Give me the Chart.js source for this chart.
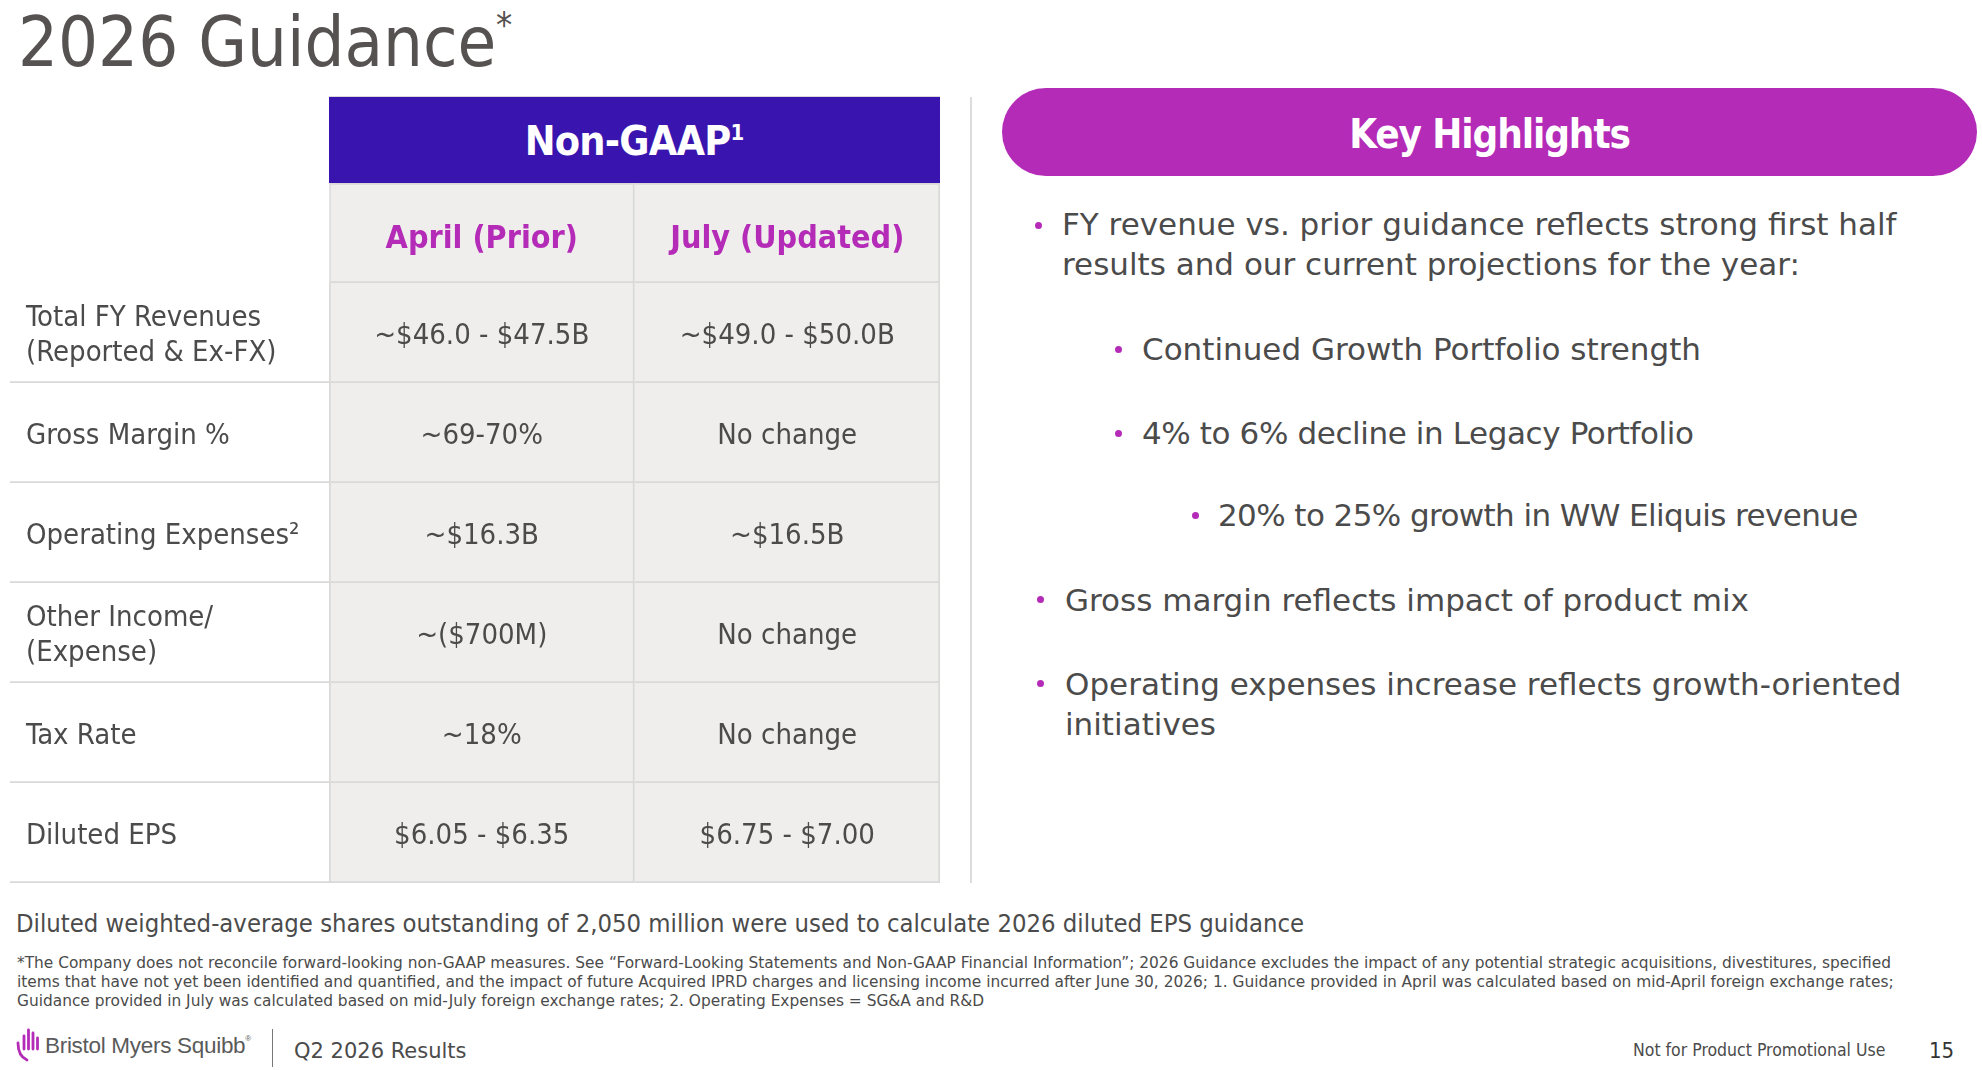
<!DOCTYPE html>
<html>
<head>
<meta charset="utf-8">
<title>2026 Guidance</title>
<script src="https://cdn.jsdelivr.net/npm/chart.js@4.4.1/dist/chart.umd.min.js"></script>
<style>
  html, body { margin: 0; padding: 0; background: #fff; }
  body { width: 1982px; height: 1070px; position: relative; overflow: hidden;
         font-family: "DejaVu Sans Condensed", "DejaVu Sans", sans-serif; color: #4b4b4b; }
  .t { position: absolute; white-space: nowrap; line-height: 1; }
  .dot { position: absolute; width: 7px; height: 7px; border-radius: 50%; background: #b42bb7; }
  .hl { font-family: "DejaVu Sans", sans-serif; font-size: 31px; }
  .foot { font-family: "DejaVu Sans", sans-serif; font-size: 15.4px; }
</style>
</head>
<body>

<div class="t" style="left:18px; top:7px; font-size:70px; color:#565251;">2026 Guidance</div>
<div class="t" style="left:496px; top:7px; font-size:36px; color:#565251;">*</div>

<!-- table header band -->
<div style="position:absolute; left:329px; top:97px; width:611px; height:86px; background:#3914af; box-shadow:0 -1px 0 #d9d9d9;">
  <div class="t" style="left:0; right:0; top:24px; text-align:center; font-size:41px; font-weight:bold; letter-spacing:-0.8px; color:#fff;">Non-GAAP<span style="font-size:22px; vertical-align:15px; letter-spacing:0;">1</span></div>
</div>

<div style="position:absolute; left:10px; top:183px; width:930px; height:700px;">
  <canvas id="guidance"></canvas>
</div>

<div style="position:absolute; left:970px; top:97px; width:2px; height:786px; background:#dcdcdc;"></div>

<!-- key highlights -->
<div style="position:absolute; left:1002px; top:88px; width:975px; height:88px; border-radius:44px; background:#b42bb7;">
  <div class="t" style="left:0; right:0; top:26px; text-align:center; font-size:40px; font-weight:bold; letter-spacing:-1.1px; color:#fff;">Key Highlights</div>
</div>

<div class="dot" style="left:1035px; top:222px;"></div>
<div class="t hl" style="left:1062px; top:209px;">FY revenue vs. prior guidance reflects strong first half</div>
<div class="t hl" style="left:1062px; top:249px;">results and our current projections for the year:</div>

<div class="dot" style="left:1115px; top:346px;"></div>
<div class="t hl" style="left:1142px; top:334px;">Continued Growth Portfolio strength</div>

<div class="dot" style="left:1115px; top:430px;"></div>
<div class="t hl" style="left:1142px; top:418px; letter-spacing:-0.4px;">4% to 6% decline in Legacy Portfolio</div>

<div class="dot" style="left:1192px; top:512px;"></div>
<div class="t hl" style="left:1218px; top:500px; letter-spacing:-0.6px;">20% to 25% growth in WW Eliquis revenue</div>

<div class="dot" style="left:1037px; top:596px;"></div>
<div class="t hl" style="left:1065px; top:585px;">Gross margin reflects impact of product mix</div>

<div class="dot" style="left:1037px; top:680px;"></div>
<div class="t hl" style="left:1065px; top:669px;">Operating expenses increase reflects growth-oriented</div>
<div class="t hl" style="left:1065px; top:709px;">initiatives</div>

<!-- notes -->
<div class="t" style="left:16px; top:911px; font-size:25.4px;">Diluted weighted-average shares outstanding of 2,050 million were used to calculate 2026 diluted EPS guidance</div>
<div class="t foot" style="left:17px; top:956px;">*The Company does not reconcile forward-looking non-GAAP measures. See “Forward-Looking Statements and Non-GAAP Financial Information”; 2026 Guidance excludes the impact of any potential strategic acquisitions, divestitures, specified</div>
<div class="t foot" style="left:17px; top:975px;">items that have not yet been identified and quantified, and the impact of future Acquired IPRD charges and licensing income incurred after June 30, 2026; 1. Guidance provided in April was calculated based on mid-April foreign exchange rates;</div>
<div class="t foot" style="left:17px; top:994px;">Guidance provided in July was calculated based on mid-July foreign exchange rates; 2. Operating Expenses = SG&amp;A and R&amp;D</div>

<!-- footer -->
<svg style="position:absolute; left:14px; top:1026px;" width="30" height="38" viewBox="0 0 30 38">
  <g fill="none" stroke="#b42bb7" stroke-width="2.8" stroke-linecap="round">
    <path d="M4 17 Q4 30 13 34"/>
    <path d="M10 10 V23"/>
    <path d="M14.5 4 V23"/>
    <path d="M19 7 V23"/>
    <path d="M23.5 12 V23"/>
  </g>
</svg>
<div class="t" style="left:45px; top:1035px; font-family:'Liberation Sans', Arial, sans-serif; font-size:22.5px; letter-spacing:-0.3px; color:#5a5a5a;">Bristol Myers Squibb<span style="font-size:8px; vertical-align:12px;">®</span></div>
<div style="position:absolute; left:272px; top:1029px; width:1px; height:38px; background:#777;"></div>
<div class="t" style="left:294px; top:1041px; font-family:'DejaVu Sans', sans-serif; font-size:21px;">Q2 2026 Results</div>
<div class="t" style="left:1633px; top:1042px; font-size:17.5px;">Not for Product Promotional Use</div>
<div class="t" style="left:1929px; top:1040px; font-size:22px; color:#333;">15</div>

<script>
const periods = ['April (Prior)', 'July (Updated)'];
const rowLabels = [
  ['Total FY Revenues', '(Reported & Ex-FX)'],
  ['Gross Margin %'],
  ['Operating Expenses²'],
  ['Other Income/', '(Expense)'],
  ['Tax Rate'],
  ['Diluted EPS']
];
const aprilGuidance = ['~$46.0 - $47.5B', '~69-70%', '~$16.3B', '~($700M)', '~18%', '$6.05 - $6.35'];
const julyGuidance = ['~$49.0 - $50.0B', 'No change', '~$16.5B', 'No change', 'No change', '$6.75 - $7.00'];

const MAGENTA = '#b42bb7';
const TEXT = '#4b4b4b';
const CELL = '#efeeec';
const LINE = '#d9d9d9';
const FONT = '"DejaVu Sans Condensed", "DejaVu Sans", sans-serif';
// label column is a little wider than a value column
const LABEL_START = -319 / 305.5;

// first category is the header row with the period names
const rows = [[''], ...rowLabels];
const columns = [aprilGuidance, julyGuidance];

const tableText = {
  id: 'tableText',
  afterDatasetsDraw(chart) {
    const { ctx, scales: { x, y } } = chart;
    ctx.save();
    ctx.textBaseline = 'alphabetic';

    ctx.font = 'bold 32px ' + FONT;
    ctx.fillStyle = MAGENTA;
    ctx.textAlign = 'center';
    periods.forEach((p, j) => {
      ctx.fillText(p, x.getPixelForValue(j + 0.5), y.getPixelForValue(0) + 15);
    });

    ctx.font = '29px ' + FONT;
    ctx.fillStyle = TEXT;
    rowLabels.forEach((lines, i) => {
      const cy = y.getPixelForValue(i + 1);
      ctx.textAlign = 'left';
      lines.forEach((txt, k) => {
        const off = lines.length === 1 ? 10.5 : (k === 0 ? -7 : 28);
        ctx.fillText(txt, x.getPixelForValue(LABEL_START) + 16, cy + off);
      });
      ctx.textAlign = 'center';
      columns.forEach((col, j) => {
        ctx.fillText(col[i], x.getPixelForValue(j + 0.5), cy + 10.5);
      });
    });
    ctx.restore();
  }
};

new Chart(document.getElementById('guidance'), {
  type: 'bar',
  data: {
    labels: rows.map(r => r.join(' ')),
    datasets: [
      {
        label: 'labels',
        data: rows.map(() => [LABEL_START, 0]),
        backgroundColor: '#ffffff',
        borderColor: LINE,
        borderWidth: c => c.dataIndex >= 1 ? { top: 0, right: 0, bottom: 2, left: 0 } : 0
      },
      {
        label: periods[0],
        data: rows.map(() => [0, 1]),
        backgroundColor: CELL,
        borderColor: LINE,
        borderWidth: c => ({ top: c.dataIndex === 0 ? 2 : 0, right: 2, bottom: 2, left: 2 })
      },
      {
        label: periods[1],
        data: rows.map(() => [1, 2]),
        backgroundColor: CELL,
        borderColor: LINE,
        borderWidth: c => ({ top: c.dataIndex === 0 ? 2 : 0, right: 2, bottom: 2, left: 0 })
      }
    ]
  },
  options: {
    indexAxis: 'y',
    responsive: true,
    maintainAspectRatio: false,
    animation: false,
    events: [],
    layout: { padding: 0 },
    datasets: {
      bar: { grouped: false, barPercentage: 1, categoryPercentage: 1, borderSkipped: false }
    },
    scales: {
      x: { type: 'linear', min: LABEL_START, max: 2, display: false },
      y: { type: 'category', offset: true, display: false }
    },
    plugins: {
      legend: { display: false },
      tooltip: { enabled: false }
    }
  },
  plugins: [tableText]
});
</script>
</body>
</html>
